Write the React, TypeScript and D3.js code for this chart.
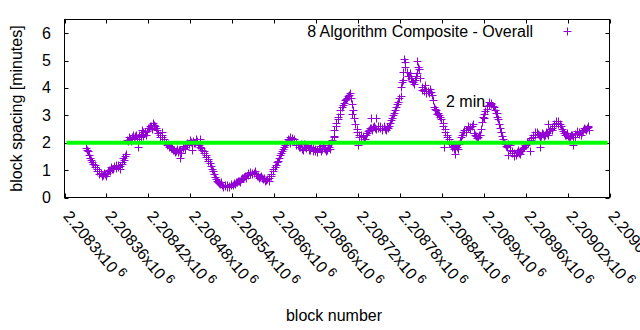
import React from "react";
import * as d3 from "d3";

const blockStart = 2208331;
const blockStep = 3;
const spacing: number[] = [
  1.82, 1.7, 1.45, 1.3, 1.2, 1.05, 0.95, 0.88, 0.82, 0.85,
  0.9, 1.0, 1.12, 1.05, 1.18, 1.1, 1.15, 1.22, 1.38, 1.6,
  2.05, 2.15, 2.22, 2.18, 2.28, 2.2, 2.32, 2.25, 2.38, 2.42,
  2.52, 2.6, 2.72, 2.62, 2.48, 2.3, 2.2, 2.12, 2.0, 1.95,
  1.88, 1.82, 1.75, 1.7, 1.65, 1.72, 1.8, 1.85, 1.9, 1.95,
  2.02, 2.08, 1.98, 2.05, 1.9, 1.82, 1.7, 1.55, 1.42, 1.25,
  1.05, 0.85, 0.68, 0.58, 0.5, 0.46, 0.42, 0.4, 0.43, 0.45,
  0.47, 0.5, 0.56, 0.62, 0.66, 0.72, 0.78, 0.82, 0.86, 0.9,
  0.9, 0.85, 0.8, 0.76, 0.72, 0.7, 0.65, 0.62, 0.78, 0.95,
  1.12, 1.28, 1.45, 1.62, 1.78, 1.92, 2.02, 2.1, 2.05, 2.15,
  2.0, 1.9, 1.85, 1.78, 1.95, 1.8, 1.88, 1.75, 1.82, 1.7,
  1.75, 1.82, 1.7, 1.9, 1.78, 1.72, 1.85, 2.0, 2.25, 2.6,
  2.85, 3.05, 3.3, 3.45, 3.58, 3.7, 3.8, 3.4, 2.9, 2.5,
  2.3, 2.2, 2.25, 2.15, 2.35, 2.45, 2.52, 2.58, 2.55, 2.6,
  2.55, 2.48, 2.6, 2.45, 2.52, 2.72, 2.9, 3.1, 3.3, 3.5,
  3.7, 4.3, 4.75, 4.6, 4.45, 4.35, 4.22, 4.3, 4.55, 4.68,
  4.02, 3.9, 3.82, 3.9, 3.95, 3.75, 3.3, 3.18, 3.1, 2.95,
  2.72, 2.5, 2.3, 2.12, 1.95, 1.88, 1.8, 1.85, 1.95, 2.2,
  2.38, 2.45, 2.52, 2.58, 2.62, 2.35, 2.25, 2.2, 2.3, 2.75,
  3.05, 3.25, 3.38, 3.45, 3.35, 3.2, 2.95, 2.7, 2.4, 2.12,
  1.95, 1.85, 1.9, 1.7, 1.62, 1.55, 1.72, 1.6, 1.78, 1.85,
  1.92, 1.98, 2.1, 2.22, 2.3, 2.38, 2.28, 2.25, 2.32, 2.3,
  2.35, 2.42, 2.48, 2.6, 2.72, 2.78, 2.7, 2.5, 2.35, 2.28,
  2.25, 2.2, 2.3, 2.22, 2.35, 2.4, 2.3, 2.45, 2.5, 2.55, 2.45,
];

// in-between blocks (start one block later, same step)
const blockStartB = 2208332;
const spacingB: number[] = [
  1.75, 1.55, 1.38, 1.22, 1.12, 0.98, 0.85, 0.78, 0.9, 0.8,
  0.98, 0.95, 1.05, 1.15, 1.08, 1.2, 1.05, 1.3, 1.5, 2.1,
  2.2, 2.08, 2.3, 2.25, 2.12, 2.3, 2.2, 2.4, 2.3, 2.55,
  2.62, 2.5, 2.65, 2.55, 2.35, 2.22, 2.28, 2.05, 1.9, 1.85,
  1.8, 1.72, 1.65, 1.78, 1.72, 1.62, 1.88, 1.78, 1.98, 2.1,
  1.95, 2.0, 2.12, 1.92, 1.85, 1.75, 1.62, 1.48, 1.32, 1.15,
  0.95, 0.75, 0.62, 0.52, 0.55, 0.4, 0.45, 0.45, 0.38, 0.5,
  0.52, 0.55, 0.6, 0.58, 0.7, 0.75, 0.72, 0.88, 0.92, 0.85,
  0.95, 0.8, 0.72, 0.8, 0.68, 0.62, 0.68, 0.7, 0.85, 1.05,
  1.2, 1.35, 1.55, 1.7, 1.85, 1.98, 2.12, 2.0, 2.18, 2.08,
  1.92, 1.85, 1.95, 1.72, 1.85, 1.9, 1.72, 1.85, 1.68, 1.78,
  1.65, 1.88, 1.78, 1.8, 1.68, 1.92, 1.78, 2.1, 2.45, 2.72,
  2.95, 3.2, 3.38, 3.55, 3.65, 3.75, 3.62, 3.2, 2.7, 2.4,
  2.22, 2.3, 2.12, 2.28, 2.42, 2.55, 2.45, 2.62, 2.5, 2.52,
  2.62, 2.55, 2.5, 2.58, 2.62, 2.82, 3.0, 3.2, 3.42, 3.62,
  4.05, 4.6, 4.95, 4.45, 4.55, 4.25, 4.15, 4.45, 4.75, 4.35,
  3.92, 3.98, 3.88, 3.8, 3.85, 3.55, 3.22, 3.05, 3.0, 2.85,
  2.6, 2.4, 2.2, 2.02, 1.85, 1.78, 1.9, 1.78, 2.05, 2.3,
  2.45, 2.38, 2.6, 2.5, 2.7, 2.28, 2.18, 2.28, 2.5, 2.95,
  3.15, 3.35, 3.48, 3.4, 3.3, 3.1, 2.85, 2.55, 2.25, 2.0,
  1.88, 1.95, 1.75, 1.62, 1.5, 1.65, 1.62, 1.7, 1.82, 1.9,
  2.02, 2.05, 2.18, 2.28, 2.4, 2.32, 2.2, 2.35, 2.25, 2.4,
  2.3, 2.5, 2.55, 2.68, 2.8, 2.7, 2.62, 2.42, 2.28, 2.35,
  2.18, 2.28, 2.22, 2.32, 2.42, 2.32, 2.4, 2.52, 2.45, 2.6,
];

// isolated outlying blocks
const outlierBlocks = [
  2208384, 2208405, 2208411, 2208440, 2208466, 2208483, 2208494, 2208623,
  2208686, 2208711, 2208720, 2208738, 2208746, 2208783, 2208786, 2208805,
  2208816, 2208843, 2208859, 2208901, 2208919, 2208935, 2208966, 2208981,
  2208992, 2209028, 2209049,
];
const outlierValues = [
  1.45, 1.85, 2.45, 2.4, 1.45, 1.72, 2.15, 2.2,
  2.2, 3.05, 1.9, 2.9, 2.9, 4.2, 5.05, 5.0,
  4.1, 1.85, 1.6, 2.9, 3.1, 1.55, 1.7, 1.84,
  2.67, 1.9, 2.57,
];

const xTickValues = [
  2208300, 2208360, 2208420, 2208480, 2208540, 2208600, 2208660,
  2208720, 2208780, 2208840, 2208900, 2208960, 2209020, 2209080,
];
const xTickMantissas = [
  "2.2083", "2.20836", "2.20842", "2.20848", "2.20854", "2.2086", "2.20866",
  "2.20872", "2.20878", "2.20884", "2.2089", "2.20896", "2.20902", "2.20908",
];
const yTickValues = [0, 1, 2, 3, 4, 5, 6];
const targetMinutes = 2;
const seriesName = "8 Algorithm Composite - Overall";
const targetLabel = "2 min";

const W = 640;
const H = 330;
const left = 64.5;
const right = 609.5;
const top = 19.5;
const bottom = 197.5;
const FONT = "'Liberation Sans', Arial, sans-serif";
const PURPLE = "#9400d3";

export default function App() {
  const x = d3.scaleLinear().domain([2208300, 2209080]).range([left, right]);
  const y = d3.scaleLinear().domain([0, 6.5]).range([bottom, top]);
  const pts = [
    ...spacing.map((v, i) => ({ b: blockStart + i * blockStep, v })),
    ...spacingB.map((v, i) => ({ b: blockStartB + i * blockStep, v })),
    ...outlierValues.map((v, i) => ({ b: outlierBlocks[i], v })),
  ];
  const s = 4;
  const plusPath = (cx: number, cy: number) => {
    const px = Math.round(cx) + 0.5;
    const py = Math.round(cy) + 0.5;
    return `M${px - s},${py}H${px + s}M${px},${py - s}V${py + s}`;
  };
  const tl = 4;
  return (
    <svg
      width={W}
      height={H}
      style={{ position: "absolute", left: 0, top: 0, background: "#fff" }}
      fontFamily={FONT}
    >
      <rect x={0} y={0} width={W} height={H} fill="#fff" />
      <g stroke="#000" strokeWidth={1}>
        {yTickValues.map((t) => (
          <g key={"y" + t}>
            <line x1={left} x2={left + tl} y1={Math.round(y(t)) + 0.5} y2={Math.round(y(t)) + 0.5} />
            <line x1={right} x2={right - tl} y1={Math.round(y(t)) + 0.5} y2={Math.round(y(t)) + 0.5} />
          </g>
        ))}
        {xTickValues.map((t) => (
          <g key={"x" + t}>
            <line x1={Math.round(x(t)) + 0.5} x2={Math.round(x(t)) + 0.5} y1={bottom} y2={bottom - tl} />
            <line x1={Math.round(x(t)) + 0.5} x2={Math.round(x(t)) + 0.5} y1={top} y2={top + tl} />
          </g>
        ))}
      </g>
      <g fontSize={16} fill="#000" textAnchor="end">
        {yTickValues.map((t) => (
          <text key={"yl" + t} x={51} y={y(t) + 5.5}>
            {t}
          </text>
        ))}
      </g>
      <g fontSize={16} fill="#000">
        {xTickValues.map((t, i) => (
          <text
            key={"xl" + t}
            transform={`translate(${x(t) - 2},${bottom + 19}) rotate(50)`}
          >
            {xTickMantissas[i]}x10
            <tspan dx={3} dy={-6} fontSize={13}>6</tspan>
          </text>
        ))}
      </g>
      <text
        transform={`translate(22,${(top + bottom) / 2}) rotate(-90)`}
        textAnchor="middle"
        fontSize={16}
      >
        block spacing [minutes]
      </text>
      <text x={334} y={321} textAnchor="middle" fontSize={16}>
        block number
      </text>
      <path
        d={pts.map((p) => plusPath(x(p.b), y(p.v))).join("")}
        stroke={PURPLE}
        strokeWidth={1}
        fill="none"
      />
      <line
        x1={left + 2}
        x2={right - 2}
        y1={y(targetMinutes)}
        y2={y(targetMinutes)}
        stroke="#00ff00"
        strokeWidth={4}
      />
      <text x={446} y={107} fontSize={16}>
        {targetLabel}
      </text>
      <text x={533} y={37} fontSize={16} textAnchor="end">
        {seriesName}
      </text>
      <path d={plusPath(567, 31)} stroke={PURPLE} strokeWidth={1} fill="none" />
      <rect
        x={left}
        y={top}
        width={right - left}
        height={bottom - top}
        fill="none"
        stroke="#000"
        strokeWidth={1}
      />
    </svg>
  );
}
